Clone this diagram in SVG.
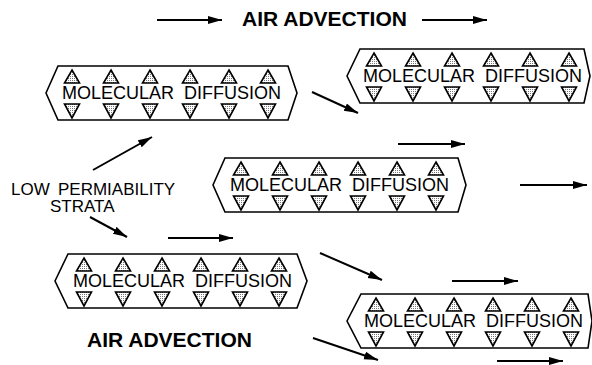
<svg xmlns="http://www.w3.org/2000/svg" xmlns:xlink="http://www.w3.org/1999/xlink" width="592" height="365" viewBox="0 0 592 365">
<style>
.box{fill:none;stroke:#000;stroke-width:1.6;stroke-linejoin:miter}
.tri{fill:url(#dots);stroke:#000;stroke-width:1.6;stroke-linejoin:miter}
.lbl{font-family:"Liberation Sans",Arial,sans-serif;font-size:18px;fill:#000}
.title{font-family:"Liberation Sans",Arial,sans-serif;font-size:21px;font-weight:bold;fill:#000}
.side{font-family:"Liberation Sans",Arial,sans-serif;font-size:17px;fill:#000}
.arr{fill:none;stroke:#000;stroke-width:2;marker-end:url(#ah)}
</style>
<defs>
<pattern id="dots" width="2" height="2" patternUnits="userSpaceOnUse">
<rect width="2" height="2" fill="#fff"/>
<rect x="0" y="0" width="1" height="1" fill="#777"/>
</pattern>
<marker id="ah" markerUnits="userSpaceOnUse" markerWidth="15" markerHeight="9" refX="14" refY="4" orient="auto">
<path d="M0,0 L14,4 L0,8 Z" fill="#000"/>
</marker>
<path id="up" class="tri" d="M0,0 L7.5,13 L-7.5,13 Z"/>
<path id="dn" class="tri" d="M-7.5,0 L7.5,0 L0,14 Z"/>
</defs>
<rect width="592" height="365" fill="#fff"/>

<g id="title-top">
<text class="title" x="242" y="26">AIR ADVECTION</text>
</g>
<g id="title-bottom">
<text class="title" x="87" y="347">AIR ADVECTION</text>
</g>
<g id="strata-label">
<text class="side" x="11" y="195">LOW</text>
<text class="side" x="58" y="195">PERMIABILITY</text>
<text class="side" x="50" y="212">STRATA</text>
</g>

<g id="box1">
<path class="box" d="M46,93 L58,66 L288,66 L297,93 L288,120 L58,120 Z"/>
<use href="#up" x="72" y="70"/><use href="#up" x="111" y="70"/><use href="#up" x="150" y="70"/><use href="#up" x="190" y="70"/><use href="#up" x="229" y="70"/><use href="#up" x="268" y="70"/>
<use href="#dn" x="72" y="104"/><use href="#dn" x="111" y="104"/><use href="#dn" x="150" y="104"/><use href="#dn" x="190" y="104"/><use href="#dn" x="229" y="104"/><use href="#dn" x="268" y="104"/>
<text class="lbl" x="62" y="99">MOLECULAR</text><text class="lbl" x="184" y="99">DIFFUSION</text>
</g>

<g id="box2">
<path class="box" d="M347,76 L360,49 L584,49 L590,76 L584,103 L360,103 Z"/>
<use href="#up" x="374" y="53"/><use href="#up" x="413" y="53"/><use href="#up" x="452" y="53"/><use href="#up" x="491" y="53"/><use href="#up" x="530" y="53"/><use href="#up" x="569" y="53"/>
<use href="#dn" x="374" y="87"/><use href="#dn" x="413" y="87"/><use href="#dn" x="452" y="87"/><use href="#dn" x="491" y="87"/><use href="#dn" x="530" y="87"/><use href="#dn" x="569" y="87"/>
<text class="lbl" x="363" y="82">MOLECULAR</text><text class="lbl" x="485" y="82">DIFFUSION</text>
</g>

<g id="box3">
<path class="box" d="M213,185 L225,158 L458,158 L466,185 L458,212 L225,212 Z"/>
<use href="#up" x="241" y="162"/><use href="#up" x="280" y="162"/><use href="#up" x="319" y="162"/><use href="#up" x="358" y="162"/><use href="#up" x="397" y="162"/><use href="#up" x="436" y="162"/>
<use href="#dn" x="241" y="196"/><use href="#dn" x="280" y="196"/><use href="#dn" x="319" y="196"/><use href="#dn" x="358" y="196"/><use href="#dn" x="397" y="196"/><use href="#dn" x="436" y="196"/>
<text class="lbl" x="230" y="191">MOLECULAR</text><text class="lbl" x="352" y="191">DIFFUSION</text>
</g>

<g id="box4">
<path class="box" d="M55,281 L68,254 L297,254 L307,281 L297,308 L68,308 Z"/>
<use href="#up" x="84" y="258"/><use href="#up" x="123" y="258"/><use href="#up" x="162" y="258"/><use href="#up" x="201" y="258"/><use href="#up" x="240" y="258"/><use href="#up" x="279" y="258"/>
<use href="#dn" x="84" y="292"/><use href="#dn" x="123" y="292"/><use href="#dn" x="162" y="292"/><use href="#dn" x="201" y="292"/><use href="#dn" x="240" y="292"/><use href="#dn" x="279" y="292"/>
<text class="lbl" x="73" y="287">MOLECULAR</text><text class="lbl" x="195" y="287">DIFFUSION</text>
</g>

<g id="box5">
<path class="box" d="M347,321 L361,294 L588,294 L592,321 L588,348 L361,348 Z"/>
<use href="#up" x="376" y="298"/><use href="#up" x="415" y="298"/><use href="#up" x="454" y="298"/><use href="#up" x="493" y="298"/><use href="#up" x="532" y="298"/><use href="#up" x="571" y="298"/>
<use href="#dn" x="376" y="332"/><use href="#dn" x="415" y="332"/><use href="#dn" x="454" y="332"/><use href="#dn" x="493" y="332"/><use href="#dn" x="532" y="332"/><use href="#dn" x="571" y="332"/>
<text class="lbl" x="364" y="327">MOLECULAR</text><text class="lbl" x="486" y="327">DIFFUSION</text>
</g>

<g id="connectors">
<path class="arr" d="M157,20 L222,20"/>
<path class="arr" d="M422,20 L487,20"/>
<path class="arr" d="M312,92 L358,113"/>
<path class="arr" d="M93,170 L152,137"/>
<path class="arr" d="M90,217 L127,237"/>
<path class="arr" d="M168,238 L233,238"/>
<path class="arr" d="M398,144 L465,144"/>
<path class="arr" d="M520,185 L587,185"/>
<path class="arr" d="M320,253 L382,280"/>
<path class="arr" d="M452,281 L518,281"/>
<path class="arr" d="M313,338 L378,360"/>
<path class="arr" d="M497,361 L563,361"/>
</g>
</svg>
